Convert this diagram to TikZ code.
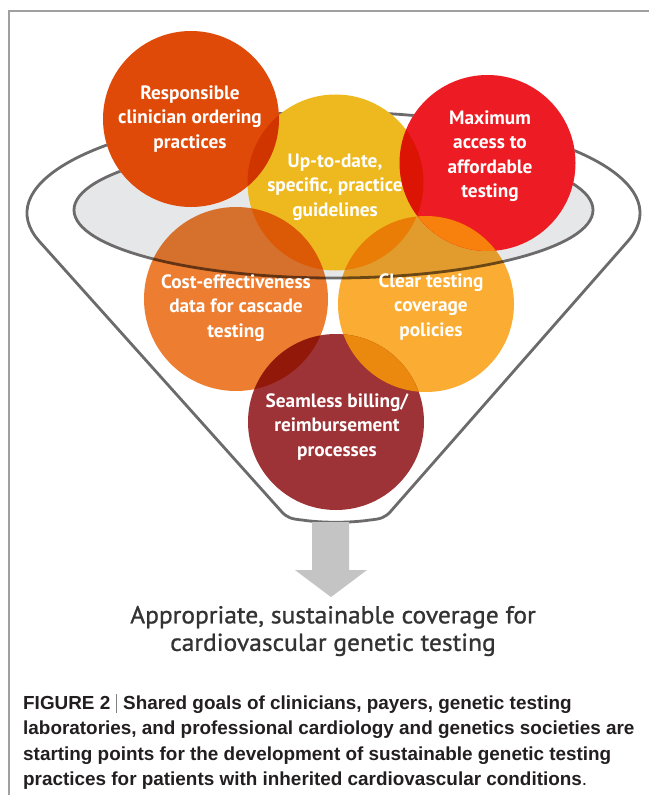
\documentclass[tikz,border=0pt]{standalone}
\usepackage{fontspec}
\newfontfamily\circfont{PT Sans}
\newfontfamily\titlefont[FakeStretch=1.04,FakeBold=1]{PT Sans}
\newfontfamily\capfont{Liberation Sans}
\definecolor{cResp}{RGB}{224,74,8}
\definecolor{cUp}{RGB}{237,185,30}
\definecolor{cMax}{RGB}{237,28,36}
\definecolor{cCost}{RGB}{237,125,49}
\definecolor{cClear}{RGB}{251,173,51}
\definecolor{cSeam}{RGB}{158,51,55}
\definecolor{cClearMax}{RGB}{248,128,12}
\definecolor{cClearSeam}{RGB}{235,137,15}
\definecolor{funnelline}{RGB}{108,106,106}
\definecolor{funnelfill}{RGB}{230,231,232}
\definecolor{framegray}{RGB}{160,160,160}
\definecolor{arrowgray}{RGB}{196,196,196}
\definecolor{titlegray}{RGB}{51,51,51}
\definecolor{captext}{RGB}{35,31,32}
\tikzset{
  circtext/.style={text=white, align=center, inner sep=0pt,
    font=\circfont\bfseries\fontsize{19.3}{24.5}\selectfont},
  funnelstroke/.style={draw=funnelline, line width=2.8pt, line join=round},
  captline/.style={anchor=base west, inner sep=0pt, text=captext,
    font=\capfont\bfseries\fontsize{18.9}{25.5}\selectfont},
}
\def\Resp{(191,119) circle[radius=88]}
\def\Up{(335.5,182.5) circle[radius=88]}
\def\Max{(487.5,163) circle[radius=88]}
\def\Cost{(236,299) circle[radius=92]}
\def\Clear{(426,304) circle[radius=88]}
\def\Seam{(336,422) circle[radius=88]}
\begin{document}
\begin{tikzpicture}[x=1pt,y=-1pt]
\useasboundingbox (0,0) rectangle (649,795);
\fill[white] (0,0) rectangle (649,795);
% frame
\draw[framegray, line width=1.2pt] (9,795) -- (9,11) -- (649,11);
% funnel outline
\draw[funnelstroke, fill=white] (39.2,241.2)
   arc[start angle=163.8, end angle=376.2, x radius=306.5, y radius=101]
   -- (391,511) .. controls (385,518) and (380,519) .. (370,520)
   .. controls (350,523) and (322,523) .. (302,520)
   .. controls (292,519) and (287,518) .. (281,511) -- cycle;
% funnel opening
\draw[funnelstroke, fill=funnelfill] (333.5,210) ellipse[x radius=259.5, y radius=68];
% top circles: opaque against the funnel, multiplied among themselves
\fill[white] \Resp;
\fill[white] \Up;
\fill[white] \Max;
\fill[cResp, blend mode=multiply] \Resp;
\fill[cUp, blend mode=multiply] \Up;
\fill[cMax, blend mode=multiply] \Max;
% lower circles, multiplied over everything
\fill[cCost, blend mode=multiply] \Cost;
\fill[cClear, blend mode=multiply] \Clear;
\fill[cSeam, blend mode=multiply] \Seam;
% overlaps with their own colours
\begin{scope}
  \clip \Clear;
  \fill[cClearMax] \Max;
  \fill[cClearSeam] \Seam;
\end{scope}
% circle labels
\node[circtext] (tResp) at (190,119) {Responsible\\clinician ordering\\practices};
\node[circtext] (tUp) at (335,187) {Up-to-date,\\specific, practice\\guidelines};
\node[circtext] (tMax) at (490,156) {Maximum\\access to\\affordable\\testing};
\node[circtext] (tCost) at (236,308) {Cost-effectiveness\\data for cascade\\testing};
\node[circtext] (tClear) at (431,307) {Clear testing\\coverage\\policies};
\node[circtext] (tSeam) at (337,427) {Seamless billing/\\reimbursement\\processes};
% arrow
\fill[arrowgray] (312,522) -- (349,522) -- (349,570) -- (367,570) -- (331,597)
   -- (295,570) -- (312,570) -- cycle;
% result text
\node[text=titlegray, align=center, inner sep=0pt,
  font=\titlefont\fontsize{24.5}{27.5}\selectfont] (result) at (333,631)
  {Appropriate, sustainable coverage for\\cardiovascular genetic testing};
% caption
\node[captline] (cap1) at (23,709) {FIGURE 2\hspace{6pt}{\color{black!50}\rule[-4pt]{0.8pt}{19pt}}\hspace{6pt}Shared goals of clinicians, payers, genetic testing};
\node[captline] (cap2) at (23,734.5) {laboratories, and professional cardiology and genetics societies are};
\node[captline] (cap3) at (23,760) {starting points for the development of sustainable genetic testing};
\node[captline] (cap4) at (23,785.5) {practices for patients with inherited cardiovascular conditions{\mdseries.}};
\end{tikzpicture}
\end{document}
